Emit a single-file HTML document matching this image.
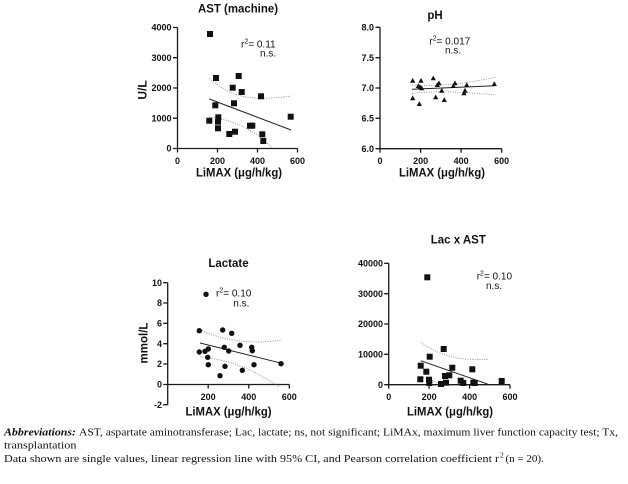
<!DOCTYPE html>
<html><head><meta charset="utf-8"><style>
html,body{margin:0;padding:0;background:#fff;}
svg{display:block;}
.t{font-family:"Liberation Sans",Arial,sans-serif;font-weight:bold;fill:#111;}
.tk{font-family:"Liberation Sans",Arial,sans-serif;font-weight:bold;font-size:9px;fill:#111;}
.r{font-family:"Liberation Sans",Arial,sans-serif;font-size:10px;fill:#111;}
.cap{font-family:"Liberation Serif","Times New Roman",serif;font-size:11px;fill:#111;}
.ax{stroke:#1a1a1a;stroke-width:1.3;fill:none;}
.rg{stroke:#222;stroke-width:1;fill:none;}
.ci{stroke:#8a8a8a;stroke-width:0.9;stroke-dasharray:1 1.4;fill:none;}
</style></head><body>
<svg width="628" height="484" viewBox="0 0 628 484" xmlns="http://www.w3.org/2000/svg">

<!-- ===== AST panel ===== -->
<text class="t" x="238" y="12.5" font-size="11.5" text-anchor="middle" textLength="80" lengthAdjust="spacingAndGlyphs">AST (machine)</text>
<text class="t" font-size="12" text-anchor="middle" transform="translate(146.5,90) rotate(-90)">U/L</text>
<path class="ax" d="M177.5,27.5 V148.5 H297.5"/>
<path class="ax" d="M173,27.5H177.5 M173,57.7H177.5 M173,88H177.5 M173,118.2H177.5 M173,148.5H177.5 M177.5,148.5V152.5 M217.5,148.5V152.5 M257.5,148.5V152.5 M297.5,148.5V152.5"/>
<g class="tk" text-anchor="end">
<text x="171.5" y="30.7">4000</text><text x="171.5" y="60.9">3000</text><text x="171.5" y="91.2">2000</text><text x="171.5" y="121.4">1000</text><text x="171.5" y="151.7">0</text>
</g>
<g class="tk" text-anchor="middle">
<text x="177.5" y="164">0</text><text x="217.5" y="164">200</text><text x="257.5" y="164">400</text><text x="297.5" y="164">600</text>
</g>
<text class="t" x="239" y="176.5" font-size="11.5" text-anchor="middle" textLength="86" lengthAdjust="spacingAndGlyphs">LiMAX (μg/h/kg)</text>
<text class="r" x="241" y="47.5">r<tspan dy="-4" font-size="7">2</tspan><tspan dy="4">= 0.11</tspan></text>
<text class="r" x="260" y="56.5">n.s.</text>
<path class="ci" d="M209.3,78.3 C232,99 255,101 291,96"/>
<path class="ci" d="M209.3,116.7 C228,120 250,125 272,148"/>
<path class="rg" d="M209.3,99 L291,130"/>
<g fill="#111">
<rect x="207" y="31" width="6" height="6"/><rect x="213" y="75" width="6" height="6"/><rect x="235.7" y="73" width="6" height="6"/><rect x="229.7" y="84.7" width="6" height="6"/><rect x="238.7" y="89" width="6" height="6"/><rect x="258" y="93.3" width="6" height="6"/><rect x="212.3" y="102.3" width="6" height="6"/><rect x="231" y="100.3" width="6" height="6"/><rect x="206.3" y="117.7" width="6" height="6"/><rect x="215.3" y="114.3" width="6" height="6"/><rect x="215" y="118.7" width="6" height="6"/><rect x="215" y="125.3" width="6" height="6"/><rect x="287.7" y="113.7" width="6" height="6"/><rect x="247" y="122.7" width="6" height="6"/><rect x="249.3" y="122.7" width="6" height="6"/><rect x="226.3" y="131" width="6" height="6"/><rect x="232" y="128.7" width="6" height="6"/><rect x="259.3" y="131.3" width="6" height="6"/><rect x="260.3" y="138" width="6" height="6"/>
</g>

<!-- ===== pH panel ===== -->
<text class="t" x="435" y="19" font-size="11.5" text-anchor="middle">pH</text>
<path class="ax" d="M380,27.3 V148.7 H501.7"/>
<path class="ax" d="M375.5,27.3H380 M375.5,57.7H380 M375.5,88H380 M375.5,118.3H380 M375.5,148.7H380 M380,148.7V152.7 M420.6,148.7V152.7 M461.1,148.7V152.7 M501.7,148.7V152.7"/>
<g class="tk" text-anchor="end">
<text x="374" y="30.5">8.0</text><text x="374" y="60.9">7.5</text><text x="374" y="91.2">7.0</text><text x="374" y="121.5">6.5</text><text x="374" y="151.9">6.0</text>
</g>
<g class="tk" text-anchor="middle">
<text x="380" y="164">0</text><text x="420.6" y="164">200</text><text x="461.1" y="164">400</text><text x="501.7" y="164">600</text>
</g>
<text class="t" x="442" y="176.5" font-size="11.5" text-anchor="middle" textLength="86" lengthAdjust="spacingAndGlyphs">LiMAX (μg/h/kg)</text>
<text class="r" x="429.3" y="44.3">r<tspan dy="-4" font-size="7">2</tspan><tspan dy="4">= 0.017</tspan></text>
<text class="r" x="445" y="53.5">n.s.</text>
<path class="ci" d="M412,85 C428,86.5 450,86.5 496,77.3"/>
<path class="ci" d="M412,93.5 C428,91.5 450,90.5 496,95"/>
<path class="rg" d="M412,89.3 L495,85.8"/>
<g fill="#111">
<polygon points="410.1,82.7 415.3,82.7 412.7,77.9"/><polygon points="418.4,82.7 423.6,82.7 421,77.9"/><polygon points="430.7,80.3 435.9,80.3 433.3,75.5"/><polygon points="415.7,88 420.9,88 418.3,83.2"/><polygon points="417.4,89 422.6,89 420,84.2"/><polygon points="419.1,90.3 424.3,90.3 421.7,85.5"/><polygon points="434.7,87 439.9,87 437.3,82.2"/><polygon points="436.4,85.3 441.6,85.3 439,80.5"/><polygon points="439.1,92.7 444.3,92.7 441.7,87.9"/><polygon points="450.7,88 455.9,88 453.3,83.2"/><polygon points="452.4,85.3 457.6,85.3 455,80.5"/><polygon points="464.1,87 469.3,87 466.7,82.2"/><polygon points="462.4,92.7 467.6,92.7 465,87.9"/><polygon points="461.4,95.3 466.6,95.3 464,90.5"/><polygon points="491.7,86 496.9,86 494.3,81.2"/><polygon points="410.1,100.3 415.3,100.3 412.7,95.5"/><polygon points="416.7,106 421.9,106 419.3,101.2"/><polygon points="433.1,99.3 438.3,99.3 435.7,94.5"/><polygon points="441.7,102 446.9,102 444.3,97.2"/>
</g>

<!-- ===== Lactate panel ===== -->
<text class="t" x="228.5" y="267" font-size="11.5" text-anchor="middle">Lactate</text>
<text class="t" font-size="11.5" text-anchor="middle" transform="translate(147.5,343) rotate(-90)">mmol/L</text>
<path class="ax" d="M167.7,282.7 V404.7 M167.7,384.5 H289.3"/>
<path class="ax" d="M163.2,282.7H167.7 M163.2,303H167.7 M163.2,323.3H167.7 M163.2,343.7H167.7 M163.2,364H167.7 M163.2,384.5H167.7 M163.2,404.7H167.7 M208.2,384.5V388.5 M248.8,384.5V388.5 M289.3,384.5V388.5"/>
<g class="tk" text-anchor="end">
<text x="162" y="285.9">10</text><text x="162" y="306.2">8</text><text x="162" y="326.5">6</text><text x="162" y="346.9">4</text><text x="162" y="367.2">2</text><text x="162" y="387.7">0</text><text x="162" y="407.9">-2</text>
</g>
<g class="tk" text-anchor="middle">
<text x="208.2" y="400">200</text><text x="248.8" y="400">400</text><text x="289.3" y="400">600</text>
</g>
<text class="t" x="228.5" y="415.5" font-size="11.5" text-anchor="middle" textLength="86" lengthAdjust="spacingAndGlyphs">LiMAX (μg/h/kg)</text>
<text class="r" x="216" y="296.5">r<tspan dy="-4" font-size="7">2</tspan><tspan dy="4">= 0.10</tspan></text>
<text class="r" x="233.3" y="306.3">n.s.</text>
<path class="ci" d="M200,329.3 C220,340 250,345 282,340"/>
<path class="ci" d="M200,356.7 C218,359 245,363 279,387"/>
<path class="rg" d="M200,343 L281.7,363.3"/>
<g fill="#111">
<circle cx="206" cy="294.3" r="2.7"/><circle cx="199.3" cy="330.7" r="2.7"/><circle cx="222.7" cy="330" r="2.7"/><circle cx="231.7" cy="333.3" r="2.7"/><circle cx="240" cy="345.3" r="2.7"/><circle cx="199.3" cy="352" r="2.7"/><circle cx="205" cy="351.3" r="2.7"/><circle cx="208.3" cy="349" r="2.7"/><circle cx="224.3" cy="347.3" r="2.7"/><circle cx="228.7" cy="351" r="2.7"/><circle cx="251.7" cy="347.3" r="2.7"/><circle cx="252.3" cy="350.7" r="2.7"/><circle cx="207.7" cy="357.3" r="2.7"/><circle cx="208.3" cy="364.7" r="2.7"/><circle cx="225" cy="366.3" r="2.7"/><circle cx="254" cy="364.7" r="2.7"/><circle cx="242.3" cy="370.3" r="2.7"/><circle cx="220" cy="375.7" r="2.7"/><circle cx="281" cy="363.7" r="2.7"/>
</g>

<!-- ===== Lac x AST panel ===== -->
<text class="t" x="458.3" y="243.5" font-size="11.5" text-anchor="middle">Lac x AST</text>
<path class="ax" d="M388.7,263.3 V384.7 H510"/>
<path class="ax" d="M384.2,263.3H388.7 M384.2,293.7H388.7 M384.2,324H388.7 M384.2,354.3H388.7 M384.2,384.7H388.7 M388.7,384.7V388.7 M429.1,384.7V388.7 M469.6,384.7V388.7 M510,384.7V388.7"/>
<g class="tk" text-anchor="end">
<text x="383" y="266.5">40000</text><text x="383" y="296.9">30000</text><text x="383" y="327.2">20000</text><text x="383" y="357.5">10000</text><text x="383" y="387.9">0</text>
</g>
<g class="tk" text-anchor="middle">
<text x="388.7" y="400">0</text><text x="429.1" y="400">200</text><text x="469.6" y="400">400</text><text x="510" y="400">600</text>
</g>
<text class="t" x="450" y="415.5" font-size="11.5" text-anchor="middle" textLength="86" lengthAdjust="spacingAndGlyphs">LiMAX (μg/h/kg)</text>
<text class="r" x="476.7" y="279.5">r<tspan dy="-4" font-size="7">2</tspan><tspan dy="4">= 0.10</tspan></text>
<text class="r" x="486" y="289">n.s.</text>
<path class="ci" d="M420.7,342.3 C440,356 460,361 488.3,359.3"/>
<path class="ci" d="M420.7,376.7 C428,379 434,381 441,384.7"/>
<path class="rg" d="M420.7,360.7 L488.3,384.3"/>
<g fill="#111">
<rect x="424.3" y="274.3" width="6" height="6"/><rect x="440.7" y="346" width="6" height="6"/><rect x="426.7" y="353.7" width="6" height="6"/><rect x="417.7" y="362.7" width="6" height="6"/><rect x="423.3" y="368.7" width="6" height="6"/><rect x="449.3" y="364.7" width="6" height="6"/><rect x="469.3" y="366.3" width="6" height="6"/><rect x="417.3" y="376.3" width="6" height="6"/><rect x="426" y="376.7" width="6" height="6"/><rect x="426.3" y="380" width="6" height="6"/><rect x="442" y="373" width="6" height="6"/><rect x="446.3" y="372.3" width="6" height="6"/><rect x="443" y="379.7" width="6" height="6"/><rect x="438" y="381" width="6" height="6"/><rect x="457.7" y="377.7" width="6" height="6"/><rect x="460.3" y="380" width="6" height="6"/><rect x="470.3" y="379.7" width="6" height="6"/><rect x="471.7" y="380" width="6" height="6"/><rect x="498.7" y="378" width="6" height="6"/>
</g>

<!-- ===== Caption ===== -->
<text class="cap" x="4" y="435.5" font-weight="bold" font-style="italic" textLength="72" lengthAdjust="spacingAndGlyphs">Abbreviations:</text>
<text class="cap" x="79" y="435.5" textLength="539" lengthAdjust="spacingAndGlyphs">AST, aspartate aminotransferase; Lac, lactate; ns, not significant; LiMAx, maximum liver function capacity test; Tx,</text>
<text class="cap" x="4" y="448.7" textLength="72.5" lengthAdjust="spacingAndGlyphs">transplantation</text>
<text class="cap" x="4" y="462" textLength="495" lengthAdjust="spacingAndGlyphs">Data shown are single values, linear regression line with 95% CI, and Pearson correlation coefficient r</text>
<text class="cap" x="500" y="457.5" style="font-size:7.5px">2</text>
<text class="cap" x="505.5" y="462" style="font-size:11px">(n = 20).</text>
</svg>
</body></html>
